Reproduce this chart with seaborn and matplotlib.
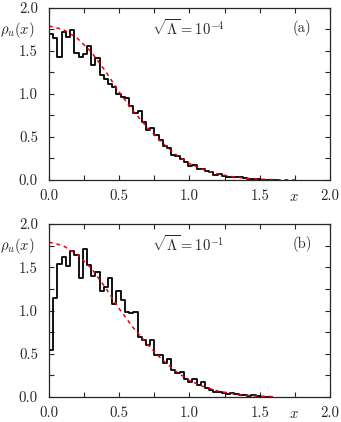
import numpy as np
import pandas as pd
import matplotlib
matplotlib.use("Agg")
import matplotlib.pyplot as plt
import seaborn as sns

# bin width used for both histograms
bin_width = 0.03

# panel (a): sqrt(Lambda) = 1e-4, bin heights
hist_a = [1.70, 1.65, 1.43, 1.72, 1.66, 1.74, 1.48, 1.43, 1.46, 1.56,
          1.34, 1.42, 1.22, 1.17, 1.12, 1.08, 1.00, 0.97, 0.95, 0.86,
          0.78, 0.80, 0.68, 0.58, 0.60, 0.52, 0.46, 0.40, 0.37, 0.29,
          0.28, 0.24, 0.21, 0.16, 0.18, 0.13, 0.13, 0.11, 0.09, 0.06,
          0.07, 0.05, 0.04, 0.03, 0.04, 0.03, 0.02, 0.015, 0.01, 0.01,
          0.005, 0.005, 0.003, 0.0]

# panel (b): sqrt(Lambda) = 1e-1
hist_b = [0.54, 1.15, 1.54, 1.62, 1.51, 1.69, 1.64, 1.38, 1.71, 1.53,
          1.40, 1.45, 1.22, 1.27, 1.38, 1.07, 1.22, 1.12, 0.98, 0.97,
          0.98, 0.69, 0.66, 0.60, 0.66, 0.48, 0.48, 0.39, 0.44, 0.31,
          0.28, 0.29, 0.21, 0.17, 0.21, 0.14, 0.17, 0.10, 0.085, 0.06,
          0.055, 0.05, 0.04, 0.05, 0.03, 0.025, 0.02, 0.015, 0.025, 0.008,
          0.005, 0.003, 0.0]

# red dashed reference curve
curve_x = [0.0, 0.1, 0.2, 0.3, 0.4, 0.5, 0.6, 0.7, 0.8, 0.9,
           1.0, 1.1, 1.2, 1.3, 1.4, 1.5, 1.6, 1.75]
curve_y = [1.79, 1.75, 1.65, 1.49, 1.27, 1.02, 0.80, 0.61, 0.44, 0.30,
           0.19, 0.12, 0.07, 0.04, 0.02, 0.01, 0.004, 0.0]

panels = [
    ("a", hist_a, r"$\sqrt{\Lambda} = 10^{-4}$", 1.75),
    ("b", hist_b, r"$\sqrt{\Lambda} = 10^{-1}$", 1.65),
]

xticks = [0.0, 0.5, 1.0, 1.5, 2.0]
yticks = [0.0, 0.5, 1.0, 1.5, 2.0]

sns.set_style("ticks")
plt.rcParams["font.family"] = ["serif"]
plt.rcParams["font.serif"] = ["cmr10", "DejaVu Serif"]
plt.rcParams["mathtext.fontset"] = "cm"
plt.rcParams["axes.unicode_minus"] = False
plt.rcParams["axes.formatter.use_mathtext"] = True

fig = plt.figure(figsize=(3.41, 4.22), dpi=100)
boxes = [[0.1437, 0.5735, 0.824, 0.4076], [0.1437, 0.0592, 0.824, 0.41]]

for (tag, heights, label, x_end), box in zip(panels, boxes):
    ax = fig.add_axes(box)
    edges = [i * bin_width for i in range(len(heights) + 1)]
    df = pd.DataFrame({"x": [e + bin_width / 2 for e in edges[:-1]],
                       "w": heights})
    sns.histplot(data=df, x="x", weights="w", bins=edges, element="step",
                 fill=False, color="black", linewidth=1.3, ax=ax)
    cx = [v for v in curve_x if v <= x_end]
    cy = curve_y[:len(cx)]
    sns.lineplot(x=cx, y=cy, color="#e8000b", linestyle=(0, (2.5, 2.5)),
                 linewidth=1.1, ax=ax)

    ax.set_xlim(0, 2)
    ax.set_ylim(0, 2)
    ax.set_xticks(xticks)
    ax.set_yticks(yticks)
    ax.set_xticks(np.arange(0.25, 2, 0.5), minor=True)
    ax.set_yticks(np.arange(0.25, 2, 0.5), minor=True)
    ax.set_xticklabels([f"{t:.1f}" for t in xticks])
    ax.set_yticklabels([f"{t:.1f}" for t in yticks])
    ax.tick_params(which="both", direction="in", top=True, right=True,
                   length=3.5, width=0.8, labelsize=10.7)
    ax.tick_params(axis="x", pad=6.5)
    ax.tick_params(axis="y", pad=8)
    ax.set_xlabel("")
    ax.set_ylabel("")
    for s in ax.spines.values():
        s.set_linewidth(0.9)

    ax.text(-0.05, 0.87, r"$\rho_u(x)$", transform=ax.transAxes,
            ha="right", va="center", fontsize=10.5)
    ax.text(0.495, 0.885, label, transform=ax.transAxes,
            ha="center", va="center", fontsize=10.5)
    ax.text(0.9, 0.885, f"({tag})", transform=ax.transAxes,
            ha="center", va="center", fontsize=10.5)
    ax.text(0.87, -0.1, r"$x$", transform=ax.transAxes,
            ha="center", va="center", fontsize=10.5)

fig.savefig("out.png", dpi=100)
